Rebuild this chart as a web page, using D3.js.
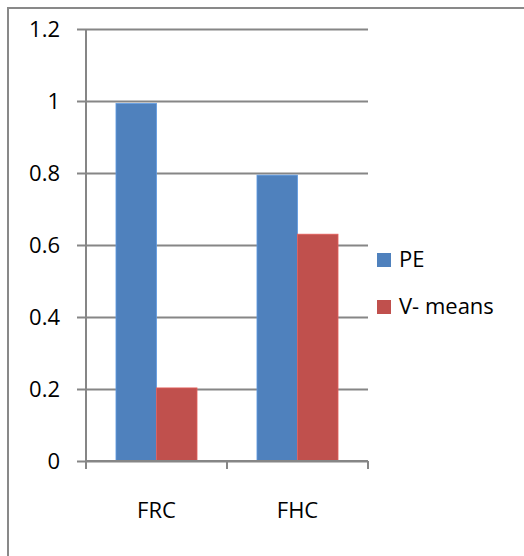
<!DOCTYPE html>
<html>
<head>
<meta charset="utf-8">
<script src="https://cdn.jsdelivr.net/npm/d3@7"></script>
<style>
  body { margin: 0; background: #fff; }
  text { font-family: 'Open Sans', sans-serif; fill: #000; }
</style>
</head>
<body>
<div id="chart"></div>
<script>
// data
var categories = ['FRC', 'FHC'];
var series_names = ['PE', 'V- means'];
var pe_values = [0.993, 0.794];
var vmeans_values = [0.203, 0.63];
var y_ticks = [0, 0.2, 0.4, 0.6, 0.8, 1, 1.2];

var colors = ['#4F81BD', '#C0504D'];
var series = [pe_values, vmeans_values];

var chart_width = 524;
var chart_height = 556;
var margin_left = 86, margin_top = 29, plot_w = 282, plot_h = 432;
var font_size = 22;

var svg = d3.select('#chart')
  .append('svg')
  .attr('width', chart_width)
  .attr('height', chart_height);

// outer frame (runs off the right and bottom edge)
svg.append('rect')
  .attr('x', 8)
  .attr('y', 8)
  .attr('width', chart_width + 20)
  .attr('height', chart_height + 20)
  .attr('fill', 'none')
  .attr('stroke', '#898989')
  .attr('stroke-width', 2);

var g = svg.append('g')
  .attr('transform', 'translate(' + margin_left + ',' + margin_top + ')');

// scales
var x_scale = d3.scaleBand()
  .domain(categories)
  .range([0, plot_w]);

var x_inner = d3.scaleBand()
  .domain(series_names)
  .range([0, x_scale.bandwidth()])
  .paddingOuter(0.74)
  .paddingInner(0);

var y_scale = d3.scaleLinear()
  .domain([0, 1.2])
  .range([plot_h, 0]);

// gridlines + y labels
var y_axis = d3.axisLeft(y_scale)
  .tickValues(y_ticks)
  .tickFormat(d3.format('~g'))
  .tickSize(-plot_w)
  .tickPadding(26);

var yg = g.append('g')
  .attr('class', 'y-axis')
  .call(y_axis);
yg.select('.domain').remove();
yg.selectAll('line')
  .attr('x1', -9)
  .attr('stroke', '#868686')
  .attr('stroke-width', 2);
yg.selectAll('text')
  .attr('font-size', font_size)
  .attr('dy', '0.36em')
  .style('font-family', "'Open Sans', sans-serif");

// bars
series.forEach(function(vals, s) {
  g.selectAll('.bar-' + s)
    .data(vals)
    .enter()
    .append('rect')
    .attr('class', 'bar-' + s)
    .attr('x', function(d, i) {
      return x_scale(categories[i]) + x_inner(series_names[s]);
    })
    .attr('y', function(d) {
      return y_scale(d);
    })
    .attr('width', x_inner.bandwidth())
    .attr('height', function(d) {
      return plot_h - y_scale(d);
    })
    .attr('fill', colors[s])
    .attr('stroke', d3.color(colors[s]).brighter(0.5))
    .attr('stroke-width', 0.8);
});

// y axis line
g.append('line')
  .attr('x1', 0).attr('x2', 0)
  .attr('y1', 0).attr('y2', plot_h)
  .attr('stroke', '#868686')
  .attr('stroke-width', 2);

// x axis
var x_axis = d3.axisBottom(x_scale)
  .tickSize(0)
  .tickPadding(41);
var xg = g.append('g')
  .attr('class', 'x-axis')
  .attr('transform', 'translate(0,' + plot_h + ')')
  .call(x_axis);
xg.select('.domain').remove();
xg.selectAll('text')
  .attr('font-size', font_size)
  .style('font-family', "'Open Sans', sans-serif");

xg.append('line')
  .attr('x1', 0).attr('x2', plot_w)
  .attr('y1', 0).attr('y2', 0)
  .attr('stroke', '#868686')
  .attr('stroke-width', 2);

// tick marks at the category boundaries
var edges = categories.map(function(c) { return x_scale(c); }).concat([plot_w]);
xg.selectAll('.edge')
  .data(edges)
  .enter()
  .append('line')
  .attr('class', 'edge')
  .attr('x1', function(d) { return d; })
  .attr('x2', function(d) { return d; })
  .attr('y1', 0)
  .attr('y2', 8)
  .attr('stroke', '#868686')
  .attr('stroke-width', 2);

// legend
var legend = svg.append('g')
  .attr('transform', 'translate(377,253)');
series_names.forEach(function(name, i) {
  var item = legend.append('g')
    .attr('transform', 'translate(0,' + (i * 47) + ')');
  item.append('rect')
    .attr('width', 14)
    .attr('height', 14)
    .attr('fill', colors[i]);
  item.append('text')
    .attr('x', 22)
    .attr('y', 14)
    .attr('font-size', font_size)
    .text(name);
});
</script>
</body>
</html>
